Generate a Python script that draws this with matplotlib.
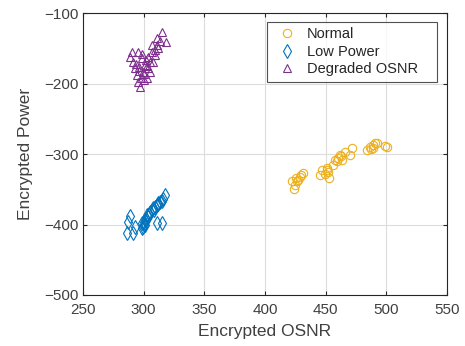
import matplotlib
matplotlib.use("Agg")
import matplotlib.pyplot as plt

# Normal
normal_osnr = [422.0, 424.7, 423.9, 427.5, 428.9, 431.6, 426.1, 425.5, 429.5,
               445.3, 446.7, 450.8, 452.2, 453.0, 456.3, 451.5, 449.5,
               457.7, 460.4, 461.8, 463.2, 466.0, 470.0, 471.5, 459.5, 462.5,
               484.3, 486.5, 488.8, 490.7, 492.0, 498.9, 500.8, 489.5, 487.5]
normal_power = [-337.9, -344.0, -350.0, -337.0, -332.0, -327.0, -339.0, -334.0, -330.0,
                -329.8, -322.7, -322.7, -325.0, -334.5, -315.6, -320.0, -328.0,
                -308.5, -306.0, -301.4, -308.5, -296.7, -301.4, -292.0, -310.0, -303.0,
                -294.0, -289.6, -287.0, -284.8, -284.0, -288.6, -289.6, -291.0, -292.5]

# Low Power
low_osnr = [288.7, 286.8, 286.0, 291.5, 292.9, 299.7, 300.5, 302.4, 305.2, 307.9,
            310.7, 313.5, 317.6, 316.2, 310.7, 314.8, 303.8, 301.0, 298.5, 304.5,
            306.5, 309.0, 312.0, 315.0, 300.0, 302.0, 311.5, 308.5, 299.0, 301.5]
low_power = [-388.0, -396.0, -411.6, -412.5, -403.0, -403.0, -396.0, -386.5, -381.8, -377.0,
             -372.3, -367.6, -358.0, -364.3, -398.3, -398.3, -389.0, -393.0, -405.0, -385.0,
             -380.0, -375.0, -370.0, -366.0, -400.0, -392.0, -371.0, -379.0, -398.0, -401.0]

# Degraded OSNR
deg_osnr = [314.8, 318.5, 310.7, 290.0, 295.6, 288.7, 291.5, 292.9, 294.3, 295.6,
            297.0, 302.4, 305.2, 308.0, 309.3, 312.0, 306.6, 303.8, 299.7, 301.1,
            298.4, 296.5, 300.5, 304.0, 307.0, 311.0, 313.5, 297.5, 293.5, 302.0,
            299.0, 303.0, 305.5, 300.0, 296.0, 309.5]
deg_power = [-127.4, -141.0, -136.0, -155.0, -155.0, -162.0, -169.0, -178.4, -188.0, -197.4,
             -204.5, -192.6, -183.0, -169.0, -159.6, -150.0, -145.4, -178.4, -183.0, -173.8,
             -164.3, -176.0, -186.0, -163.0, -155.0, -145.0, -140.0, -192.0, -172.0, -166.0,
             -158.0, -175.0, -170.0, -195.0, -182.0, -152.0]

xticks = [250, 300, 350, 400, 450, 500, 550]
yticks = [-500, -400, -300, -200, -100]

plt.rcParams['font.family'] = ['Liberation Sans', 'DejaVu Sans']
txt = '#404040'

fig = plt.figure(figsize=(4.65, 3.46), dpi=100)
ax = fig.add_axes([0.1785, 0.1474, 0.7825, 0.815])

ax.plot(normal_osnr, normal_power, 'o', ls='none', mfc='none', mec='#EDB120',
        ms=6, mew=0.8, label='Normal')
ax.plot(low_osnr, low_power, 'd', ls='none', mfc='none', mec='#0072BD',
        ms=7, mew=0.8, label='Low Power')
ax.plot(deg_osnr, deg_power, '^', ls='none', mfc='none', mec='#7E2F8E',
        ms=6, mew=0.8, label='Degraded OSNR')

ax.set_xlim(250, 550)
ax.set_ylim(-500, -100)
ax.set_xticks(xticks)
ax.set_yticks(yticks)
ax.grid(True, color='#dcdcdc', lw=0.8)
ax.set_axisbelow(True)
for s in ax.spines.values():
    s.set_color('#262626')
    s.set_linewidth(0.8)
ax.tick_params(direction='in', length=3, width=0.8, colors='#262626',
               labelcolor=txt, labelsize=11, top=True, right=True)
ax.tick_params(axis='x', pad=6)
ax.set_xlabel('Encrypted OSNR', fontsize=12.5, color=txt, labelpad=5)
ax.set_ylabel('Encrypted Power', fontsize=12.5, color=txt, labelpad=8)

leg = ax.legend(loc='upper left', bbox_to_anchor=(0.5055, 0.755, 0.467, 0.213),
                mode='expand', fontsize=10.5,
                frameon=True, fancybox=False, edgecolor='#262626',
                handlelength=2.0, handletextpad=0.4, borderpad=0.35,
                labelspacing=0.25, borderaxespad=0.0)
leg.get_frame().set_linewidth(0.8)
for t in leg.get_texts():
    t.set_color('#262626')

fig.savefig('out.png', dpi=100)
